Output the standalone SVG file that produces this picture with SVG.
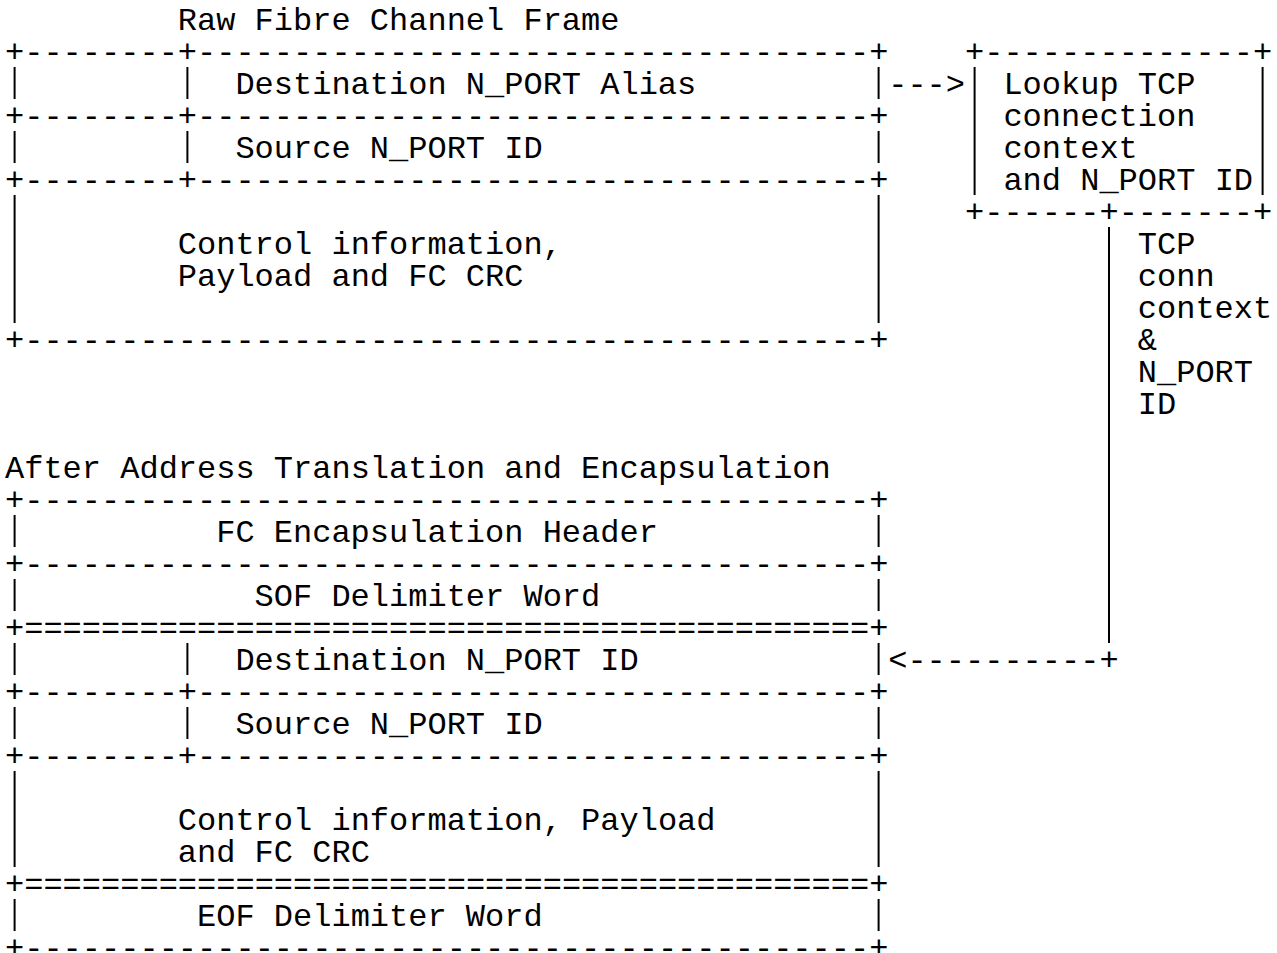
<svg xmlns="http://www.w3.org/2000/svg" width="1277" height="953" viewBox="0 0 1277 953" xml:space="preserve">
<style>
.t{font-family:"Liberation Mono","Courier New",monospace;font-size:32px;fill:#000;white-space:pre}
.v{stroke:#000;stroke-width:2;fill:none}
</style>
<rect x="0" y="0" width="1277" height="953" fill="#fff"/>
<g id="raw-frame">
<text class="t" x="177.8" y="30">Raw Fibre Channel Frame</text>
<text class="t" x="5" y="62">+--------+-----------------------------------+</text>
<text class="t" x="235.4" y="94">Destination N_PORT Alias</text>
<text class="t" x="5" y="126">+--------+-----------------------------------+</text>
<text class="t" x="235.4" y="158">Source N_PORT ID</text>
<text class="t" x="5" y="190">+--------+-----------------------------------+</text>
<text class="t" x="177.8" y="254">Control information,</text>
<text class="t" x="177.8" y="286">Payload and FC CRC</text>
<text class="t" x="5" y="350">+--------------------------------------------+</text>
<path class="v" d="M14.6 67V99M14.6 131V163M14.6 195V323M187.4 67V99M187.4 131V163M878.6 67V99M878.6 131V163M878.6 195V323"/>
</g>
<g id="lookup">
<text class="t" x="965" y="62">+--------------+</text>
<text class="t" x="1003.4" y="94">Lookup TCP</text>
<text class="t" x="1003.4" y="126">connection</text>
<text class="t" x="1003.4" y="158">context</text>
<text class="t" x="1003.4" y="190">and N_PORT ID</text>
<text class="t" x="965" y="222">+------+-------+</text>
<path class="v" d="M974.6 67V195M1262.6 67V195"/>
</g>
<g id="translated-frame">
<text class="t" x="5" y="478">After Address Translation and Encapsulation</text>
<text class="t" x="5" y="510">+--------------------------------------------+</text>
<text class="t" x="216.2" y="542">FC Encapsulation Header</text>
<text class="t" x="5" y="574">+--------------------------------------------+</text>
<text class="t" x="254.6" y="606">SOF Delimiter Word</text>
<text class="t" x="5" y="638">+============================================+</text>
<text class="t" x="235.4" y="670">Destination N_PORT ID</text>
<text class="t" x="5" y="702">+--------+-----------------------------------+</text>
<text class="t" x="235.4" y="734">Source N_PORT ID</text>
<text class="t" x="5" y="766">+--------+-----------------------------------+</text>
<text class="t" x="177.8" y="830">Control information, Payload</text>
<text class="t" x="177.8" y="862">and FC CRC</text>
<text class="t" x="5" y="894">+============================================+</text>
<text class="t" x="197" y="926">EOF Delimiter Word</text>
<text class="t" x="5" y="958">+--------------------------------------------+</text>
<path class="v" d="M14.6 515V547M14.6 579V611M14.6 643V675M14.6 707V739M14.6 771V867M14.6 899V931M187.4 643V675M187.4 707V739M878.6 515V547M878.6 579V611M878.6 643V675M878.6 707V739M878.6 771V867M878.6 899V931"/>
</g>
<g id="connectors">
<text class="t" x="888.2" y="94">---&gt;</text>
<path class="v" d="M1109 227V643"/>
<text class="t" x="888.2" y="670">&lt;----------+</text>
<text class="t" x="1137.8" y="254">TCP</text>
<text class="t" x="1137.8" y="286">conn</text>
<text class="t" x="1137.8" y="318">context</text>
<text class="t" x="1137.8" y="350">&amp;</text>
<text class="t" x="1137.8" y="382">N_PORT</text>
<text class="t" x="1137.8" y="414">ID</text>
</g>
</svg>
